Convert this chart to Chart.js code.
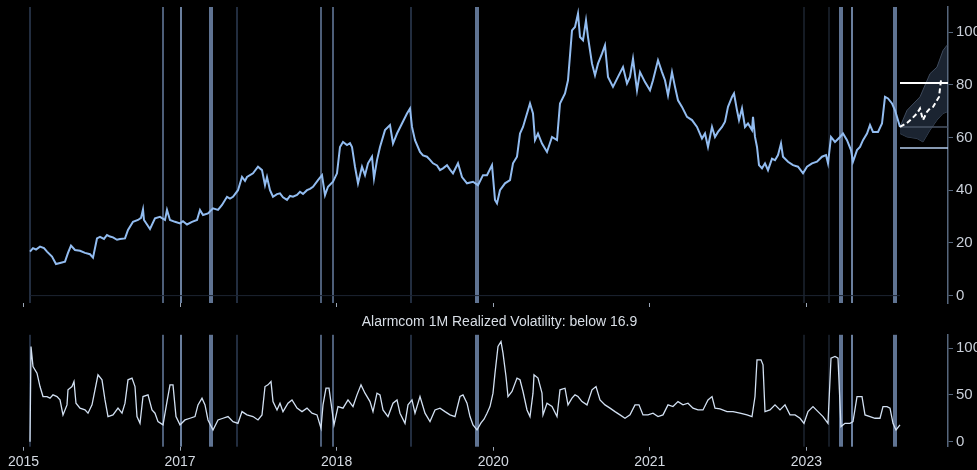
<!DOCTYPE html>
<html>
<head>
<meta charset="utf-8">
<script src="https://cdn.jsdelivr.net/npm/chart.js@4.4.0/dist/chart.umd.min.js"></script>
<style>
html, body { margin: 0; padding: 0; background: #000; }
#wrap { position: relative; width: 977px; height: 470px; overflow: hidden; background: #000; }
#cTop { position: absolute; left: 0; top: 0; }
#cBot { position: absolute; left: 0; top: 312px; }
</style>
</head>
<body>
<div id="wrap">
  <canvas id="cTop" width="977" height="312"></canvas>
  <canvas id="cBot" width="977" height="158"></canvas>
</div>
<script>
// axe du temps (index de séance), ticks et libellés
const tickT = [1.5, 158, 314.6, 471.2, 627.8, 784.4];
const tickLabels = ['2015', '2017', '2018', '2020', '2021', '2023'];
const priceTicks = [0, 20, 40, 60, 80, 100];
const volTicks = [0, 50, 100];

// cours de l'action [t, prix]
const price = [
  [8,16.7],[11,18],[14,17.5],[18,18.6],[22,18.0],[25,16.7],[30,14.8],[34,12],[38,12.4],[43,12.9],
  [46,16.2],[49,19],[53,17.3],[58,17],[63,16.2],[68,15.7],[71,14.4],[75,21.7],[78,22.3],[82,21.5],
  [85,23],[88,22.4],[91,22.1],[95,21.2],[98,21.5],[103,21.7],[106,24.9],[111,28],[116,28.7],[119,29.5],
  [121,32.7],[122,28.7],[125,27],[128,25.3],[133,29.3],[138,29.9],[143,28.7],[145,32.5],[148,28.7],[153,28],
  [158,27.4],[161,28.2],[165,27],[170,28],[175,28.7],[178,32.5],[181,30.6],[186,31.2],[191,33.1],[196,32.5],
  [200,34.4],[205,37.5],[208,36.8],[211,37.5],[216,40],[220,45],[223,43.5],[225,45],[231,46.4],[236,48.9],
  [240,47.6],[243,41.9],[245,45],[248,40],[251,37.5],[255,38.5],[258,38.8],[261,37.3],[265,36.3],[268,37.8],
  [271,37.5],[275,38.2],[278,39.4],[281,38.6],[285,40],[288,40.5],[291,41.3],[296,43.8],[300,45.7],[303,38.1],
  [306,41.3],[311,43.2],[315,46.4],[318,56.4],[321,58.3],[325,57.1],[328,57.8],[330,56.4],[333,48.9],[336,42.6],
  [340,48.9],[343,45.7],[346,50.2],[350,52.7],[352,44.5],[355,51.4],[358,56.4],[363,62.8],[368,64.7],[371,57.7],
  [375,61.5],[380,65.3],[385,69.1],[388,71],[390,64],[393,59],[398,54.5],[401,53.2],[405,52.7],[408,51.5],
  [411,50.2],[415,49.4],[418,47.6],[421,48.3],[425,49.5],[428,47.8],[431,46.4],[436,50.2],[440,45],[445,42.6],
  [451,43.2],[456,41.9],[461,45.7],[465,45.7],[470,49.5],[473,36.3],[475,35],[478,40],[483,42.6],[488,43.8],
  [491,50.2],[495,52.7],[498,61.5],[501,64],[505,69.1],[508,72.9],[511,69.1],[513,59],[516,61.5],[520,57.7],
  [525,54.5],[530,60.2],[535,59],[538,72.9],[543,76.7],[546,81.7],[550,100.6],[553,101.9],[556,107],[558,98.1],
  [561,96.9],[564,104.4],[566,98.1],[570,88],[573,83.6],[576,88],[580,91.8],[583,95],[586,83],[591,79.2],
  [596,83],[601,86.7],[605,80.5],[608,83],[611,89.9],[615,77.9],[618,84.8],[623,81],[628,77.9],[631,81.7],
  [636,89.3],[640,84.8],[643,81.7],[646,76],[650,84.8],[653,79.2],[656,74.1],[660,71.6],[665,67.8],[670,66.6],
  [675,64],[680,59.6],[683,61.5],[686,56.4],[690,64],[693,60.2],[696,62.1],[700,64],[703,66],[706,71.6],
  [710,75.4],[712,76.7],[715,70.3],[717,66.6],[720,71],[723,64],[726,65.3],[730,62.8],[731,67.8],[733,60.2],
  [735,56.4],[737,49.5],[740,48.3],[743,50.2],[746,47.6],[750,52],[753,51.4],[756,53.3],[759,57.7],[761,52.7],
  [766,50.8],[771,49.5],[776,48.9],[781,46.4],[785,48.9],[790,50.2],[795,50.8],[800,52.7],[804,53.3],[806,50.2],
  [809,60.2],[813,58.3],[818,60.2],[821,61.5],[825,59],[829,55.2],[831,50.8],[835,55.2],[838,56.4],[841,59],
  [845,61.5],[848,64.7],[851,62.1],[856,62.1],[860,65.3],[863,75.4],[866,74.8],[870,72.9],[873,70.3],[878,64]
];

// projection : médiane et bornes du cône
const fcMedian = [[878,64],[885,65.5],[890,67.2],[895,69.1],[898,71],[901,66.6],[905,69.7],[908,71],[911,71.6],[915,74.1],[917,75.4],[919,81.7],[921,82]];
const fcUpper = [[878,64],[885,70.3],[898,75.4],[908,84.2],[915,86.7],[921,93],[925,95]];
const fcLower = [[878,61.5],[885,60.2],[895,59.6],[901,58.3],[908,62.8],[915,66.6],[921,69.1],[925,69.7]];
const levelHigh = 80.7;
const levelMid = 64;
const levelLow = 56;

// volatilité réalisée 1M [t, vol]
const vol = [
  [8,0],[9,101.7],[11,80.3],[15,73.2],[18,58.9],[21,48.2],[25,48.2],[28,46.5],[31,50],[35,48.2],
  [38,44.6],[41,28.6],[45,39.3],[46,55.4],[50,58.9],[52,64.2],[54,41.1],[58,35.8],[63,33.9],[66,30.4],
  [70,39.3],[73,55.4],[76,71.4],[80,66.1],[83,44.6],[86,26.8],[91,28.6],[96,35.8],[100,30.4],[103,41.1],
  [106,66.1],[110,67.9],[113,58.9],[115,26.8],[118,19.6],[121,48.2],[126,50],[130,33.9],[133,30.4],[136,21.4],
  [141,17.9],[145,42.8],[148,60.7],[151,60.7],[154,26.8],[158,17.9],[163,23.2],[168,25],[173,26.8],[176,39.3],
  [180,46.5],[183,39.3],[186,23.2],[191,12.5],[196,23.2],[201,25],[206,26.8],[211,21.4],[216,19.6],[220,32.1],
  [225,28.6],[231,26.8],[236,23.2],[240,28.6],[243,58.9],[246,60.7],[249,64.2],[251,42.8],[255,33.9],[258,41.1],
  [261,32.1],[266,41.1],[270,44.6],[275,35.8],[280,32.1],[285,35.8],[290,30.4],[295,28.6],[299,14.3],[301,39.3],
  [304,57.1],[307,57.1],[310,33.9],[312,17.9],[316,37.5],[321,35.8],[326,44.6],[331,37.5],[335,50],[339,60.7],
  [343,51.8],[348,42.8],[351,32.1],[355,51.8],[358,50],[361,33.9],[366,26.8],[371,41.1],[375,44.6],[378,30.4],
  [383,19.6],[386,39.3],[390,44.6],[393,30.4],[398,48.2],[403,30.4],[408,21.4],[413,33.9],[418,35.8],[423,32.1],
  [428,28.6],[433,26.8],[438,48.2],[441,50],[445,41.1],[448,26.8],[451,17.9],[455,12.5],[459,20],[462,24],
  [465,30.4],[468,37.5],[471,51.8],[473,73.2],[476,101.7],[479,107],[481,94.6],[484,69.6],[486,48.2],[490,53.6],
  [495,67.9],[498,66.1],[501,53.6],[505,33.9],[508,26.8],[511,51.8],[512,71.4],[516,67.9],[520,51.8],[521,28.6],
  [525,41.1],[530,37.5],[535,26.8],[538,55.4],[543,57.1],[546,39.3],[550,46.5],[553,50],[556,48.2],[560,42.8],
  [565,39.3],[570,55.4],[574,58.9],[578,44.6],[583,39.3],[588,35.8],[593,32.1],[598,28.6],[603,25],[608,28.6],
  [613,39.3],[617,39.3],[621,28.6],[626,28.6],[631,30.4],[636,26.8],[641,28.6],[646,39.3],[651,37.5],[656,42.8],
  [661,39.3],[666,41.1],[671,35.8],[676,33.9],[681,33.9],[686,44.6],[690,48.2],[693,35.8],[698,35],[705,32.1],
  [711,32.1],[718,30.4],[725,28.6],[730,26.8],[733,48.2],[735,87.5],[739,87.5],[741,82.1],[743,32.1],[748,33.9],
  [753,39.3],[758,33.9],[763,39.3],[768,28.6],[773,28.6],[778,25],[782,19.6],[786,32.1],[791,37.5],[796,32.1],
  [801,26.8],[806,19.6],[809,89.3],[813,91],[816,89.3],[819,16.1],[823,19.6],[828,19.6],[831,21.4],[835,48.2],
  [840,48.2],[843,28.6],[848,26.8],[853,25],[858,25],[861,37.5],[865,37.5],[868,35.8],[871,19.6],[874,12.5],[878,17.9]
];

// dates où la volatilité passe sous le seuil
const eventT = [8, 141, 159, 189, 215, 299, 311, 389, 455, 782, 807, 819, 830, 873];
const eventKind = [0, 1, 2, 3, 0, 1, 1, 0, 3, 4, 4, 3, 2, 3];
const eventLook = [
  { w: 2, color: '#222d3f' },
  { w: 2, color: '#4d5e78' },
  { w: 2, color: '#6a7f9e' },
  { w: 4, color: '#5f7392' },
  { w: 1, color: '#2a3648' }
];

const X_MIN = 0;
const X_MAX = 926;
const FONT = "'Liberation Sans', Arial, sans-serif";
const pts = arr => arr.map(([t, v]) => ({ x: t, y: v }));
const lastT = price[price.length - 1][0];

const eventBars = {
  id: 'eventBars',
  beforeDatasetsDraw(chart) {
    const { ctx, chartArea: a, scales: { x } } = chart;
    ctx.save();
    eventT.forEach((t, i) => {
      const st = eventLook[eventKind[i]];
      const px = x.getPixelForValue(t);
      ctx.fillStyle = st.color;
      ctx.fillRect(px - st.w / 2, a.top, st.w, a.bottom - a.top);
    });
    ctx.restore();
  }
};

function xAxis(showLabels, height) {
  return {
    type: 'linear',
    min: X_MIN,
    max: X_MAX,
    border: { display: false },
    grid: { drawOnChartArea: false, drawTicks: true, tickLength: 4, color: '#9aa6b6', lineWidth: 1 },
    ticks: {
      display: showLabels,
      color: '#d4dae2',
      padding: 3,
      maxRotation: 0,
      autoSkip: false,
      font: { family: FONT, size: 14 },
      callback: (v, i) => tickLabels[i]
    },
    afterBuildTicks: s => { s.ticks = tickT.map(v => ({ value: v })); },
    afterFit: s => { s.height = height; }
  };
}

function yAxis(min, max, ticks) {
  return {
    position: 'right',
    min: min,
    max: max,
    border: { display: true, color: '#56667c', width: 1.5 },
    grid: { drawOnChartArea: false, drawTicks: true, tickLength: 5, color: '#56667c' },
    ticks: { color: '#c8ced8', padding: 3, font: { family: FONT, size: 15 } },
    afterBuildTicks: s => { s.ticks = ticks.map(v => ({ value: v })); },
    afterFit: s => { s.width = 29; s.paddingTop = 0; s.paddingBottom = 0; }
  };
}

function initCharts() {
    // Graphique du cours + projection
    new Chart(document.getElementById('cTop'), {
        type: 'line',
        data: {
            datasets: [
                { data: pts(fcMedian), borderColor: '#ffffff', borderWidth: 2, borderDash: [5, 3], pointRadius: 0, order: 0 },
                { data: pts(price), borderColor: '#92bcf0', borderWidth: 2, pointRadius: 0, order: 1 },
                { data: pts([[lastT, levelHigh], [X_MAX, levelHigh]]), borderColor: '#ffffff', borderWidth: 2, pointRadius: 0, order: 2 },
                { data: pts([[lastT, levelLow], [X_MAX, levelLow]]), borderColor: '#b4cdee', borderWidth: 1.5, pointRadius: 0, order: 2 },
                { data: pts([[lastT, levelMid], [X_MAX, levelMid]]), borderColor: '#4a5566', borderWidth: 1.5, pointRadius: 0, order: 3 },
                { data: pts(fcUpper), borderColor: '#3e4a5c', borderWidth: 1, pointRadius: 0, fill: '+1', backgroundColor: 'rgba(32,42,58,0.85)', order: 5 },
                { data: pts(fcLower), borderColor: '#3e4a5c', borderWidth: 1, pointRadius: 0, fill: false, order: 6 },
                { data: pts([[price[0][0], 0], [lastT, 0]]), borderColor: '#1c2432', borderWidth: 1, pointRadius: 0, order: 7 }
            ]
        },
        options: {
            responsive: false,
            animation: false,
            events: [],
            layout: { padding: { left: 22, right: 0, top: 7, bottom: 0 } },
            plugins: { legend: { display: false }, tooltip: { enabled: false } },
            scales: { x: xAxis(false, 9), y: yAxis(-2.8, 109.5, priceTicks) }
        },
        plugins: [eventBars]
    });

    // Graphique volatilité
    new Chart(document.getElementById('cBot'), {
        type: 'line',
        data: {
            datasets: [
                { data: pts(vol), borderColor: '#d2e0f2', borderWidth: 1.3, pointRadius: 0 }
            ]
        },
        options: {
            responsive: false,
            animation: false,
            events: [],
            layout: { padding: { left: 22, right: 0, top: 0, bottom: 0 } },
            plugins: {
                legend: { display: false },
                tooltip: { enabled: false },
                title: {
                    display: true,
                    text: 'Alarmcom 1M Realized Volatility: below 16.9',
                    color: '#d8dee6',
                    font: { family: FONT, size: 14, weight: 'normal' },
                    padding: { top: 2, bottom: 4 }
                }
            },
            scales: { x: xAxis(true, 23.3), y: yAxis(-5.4, 114.2, volTicks) }
        },
        plugins: [eventBars]
    });
}

initCharts();
</script>
</body>
</html>
